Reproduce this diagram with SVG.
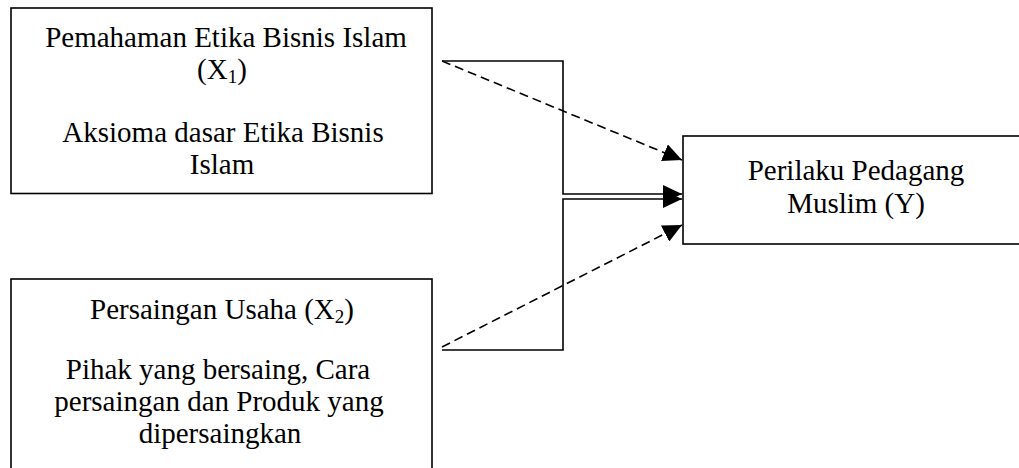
<svg xmlns="http://www.w3.org/2000/svg" width="1019" height="468" viewBox="0 0 1019 468">
<style>
.box{fill:#fff;stroke:#000;stroke-width:1.6}
.t{font-family:"Liberation Serif","Times New Roman",serif;font-size:29px;fill:#000;text-anchor:middle}
.sub{font-size:19px}
.solid{fill:none;stroke:#000;stroke-width:1.6}
.dash{fill:none;stroke:#000;stroke-width:1.6;stroke-dasharray:9 5}
</style>
<defs>
<marker id="ah" markerUnits="userSpaceOnUse" markerWidth="19" markerHeight="18" refX="19" refY="9" orient="auto">
<path d="M0,0 L19,9 L0,18 z" fill="#000"/>
</marker>
</defs>
<rect width="1019" height="468" fill="#fff"/>
<g id="nodeX1">
<rect class="box" x="11" y="8" width="421" height="185.5"/>
<text class="t" x="226" y="47">Pemahaman Etika Bisnis Islam</text>
<text class="t" x="222" y="79">(X<tspan class="sub" dy="4">1</tspan><tspan dy="-4">)</tspan></text>
<text class="t" x="223" y="142">Aksioma dasar Etika Bisnis</text>
<text class="t" x="222" y="174">Islam</text>
</g>
<g id="nodeX2">
<rect class="box" x="11" y="279" width="421" height="200"/>
<text class="t" x="222" y="319">Persaingan Usaha (X<tspan class="sub" dy="4">2</tspan><tspan dy="-4">)</tspan></text>
<text class="t" x="218" y="379">Pihak yang bersaing, Cara</text>
<text class="t" x="219" y="411">persaingan dan Produk yang</text>
<text class="t" x="220" y="443">dipersaingkan</text>
</g>
<g id="nodeY">
<rect class="box" x="683" y="136" width="350" height="108"/>
<text class="t" x="856" y="180">Perilaku Pedagang</text>
<text class="t" x="856" y="213">Muslim (Y)</text>
</g>
<g id="connectors">
<polyline class="solid" points="442,61 563,61 563,194 682,194" marker-end="url(#ah)"/>
<polyline class="solid" points="442,350 563,350 563,199 682,199" marker-end="url(#ah)"/>
<line class="dash" x1="442" y1="61" x2="682" y2="160" marker-end="url(#ah)"/>
<line class="dash" x1="442" y1="347" x2="682" y2="225" marker-end="url(#ah)"/>
</g>
</svg>
